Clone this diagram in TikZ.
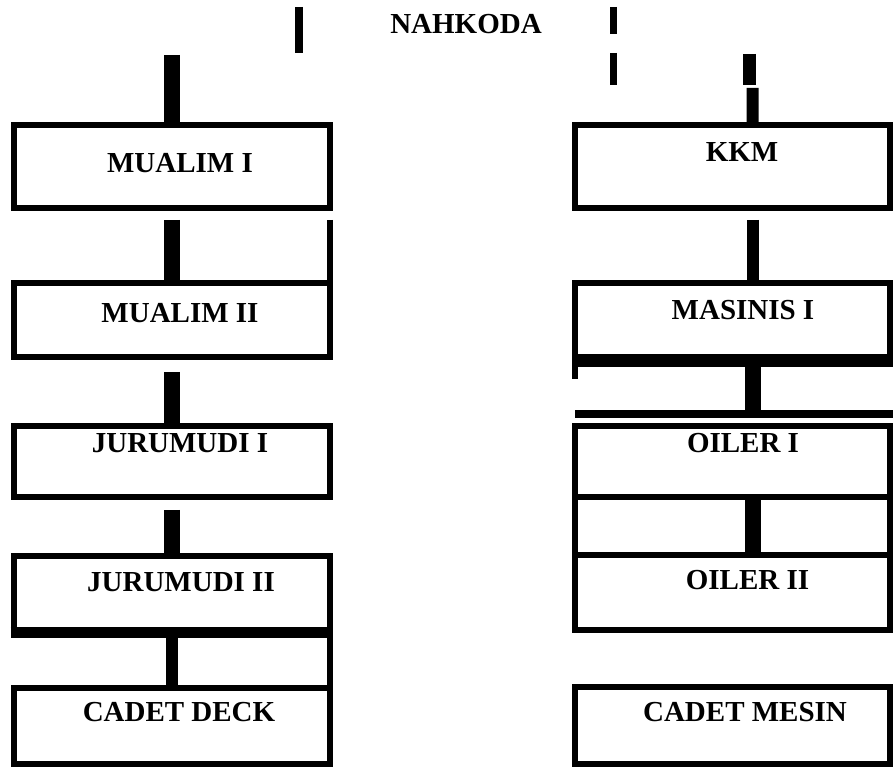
\documentclass[tikz,border=0pt]{standalone}
\usepackage{fontspec}
\setmainfont{Liberation Serif}

\begin{document}
\begin{tikzpicture}[x=0.02cm, y=-0.02cm,
  box/.style={draw, line width=0.12cm, inner sep=0pt, outer sep=0pt},
  lbl/.style={font=\fontsize{16.5}{20}\selectfont\bfseries, inner sep=0pt, text height=11pt, text depth=0pt},
  conn/.style={line width=0.32cm},
  narrowconn/.style={line width=0.24cm},
  edge/.style={line width=0.12cm}]
  \useasboundingbox (0,0) rectangle (893,767);
  % top
  \node[lbl] (nahkoda) at (466,23.5) {NAHKODA};
  \coordinate (ltop) at (172,55);
  \coordinate (stubA1) at (299,7);    \coordinate (stubA2) at (299,53);
  \coordinate (stubB1) at (613.5,7);  \coordinate (stubB2) at (613.5,34);
  \coordinate (stubC1) at (613.5,53); \coordinate (stubC2) at (613.5,85);
  \coordinate (stubD1) at (749.5,54); \coordinate (stubD2) at (749.5,85);
  \coordinate (rtop) at (752.5,88);
  % deck side
  \foreach \n/\y/\h/\dx/\dy/\t in {m1/166.5/1.66cm/8/-4/MUALIM I, m2/320/1.5cm/8/-7.5/MUALIM II,
      j1/461.5/1.42cm/8/-18.5/JURUMUDI I, j2/593/1.5cm/9/-11/JURUMUDI II, cd/726/1.54cm/7/-14/CADET DECK}
    \node[box, minimum width=6.34cm, minimum height=\h,
      label={[lbl, shift={(\dx,\dy)}]center:\t}] (\n) at (172,\y) {};
  % engine side
  \foreach \n/\y/\h/\dx/\dy/\t in {kkm/166.5/1.66cm/9.5/-15/KKM, mas/320/1.5cm/10.5/-10/MASINIS I,
      o1/461.5/1.42cm/10.5/-19/OILER I, o2/592.5/1.5cm/15/-12.5/OILER II, cm/725.5/1.56cm/12.5/-14/CADET MESIN}
    \node[box, minimum width=6.3cm, minimum height=\h,
      label={[lbl, shift={(\dx,\dy)}]center:\t}] (\n) at (732.5,\y) {};
  % stubs round the title
  \draw[line width=0.16cm] (stubA1) -- (stubA2);
  \draw[line width=0.14cm] (stubB1) -- (stubB2);
  \draw[line width=0.14cm] (stubC1) -- (stubC2);
  \draw[line width=0.26cm] (stubD1) -- (stubD2);
  % deck lines
  \draw[conn] (ltop) -- (m1.north);
  \draw[conn, shorten <=0.24cm] (m1.south) -- (m2.north);
  \draw[edge, shorten <=0.24cm] (m1.south east) -- (m2.north east);
  \draw[conn, shorten <=0.29cm] (m2.south) -- (j1.north);
  \draw[conn, shorten <=0.26cm] (j1.south) -- (j2.north);
  \draw[line width=0.22cm, shorten <=-0.06cm, shorten >=-0.06cm]
    ([yshift=-0.04cm]j2.south west) -- ([yshift=-0.04cm]j2.south east);
  \draw[narrowconn] (j2.south) -- (cd.north);
  \draw[edge] (j2.south east) -- (cd.north east);
  % engine lines
  \draw[narrowconn] (rtop) -- ([xshift=0.4cm]kkm.north);
  \draw[narrowconn, shorten <=0.24cm] ([xshift=0.41cm]kkm.south) -- ([xshift=0.41cm]mas.north);
  \draw[line width=0.26cm, shorten <=-0.06cm, shorten >=-0.06cm]
    ([yshift=-0.06cm]mas.south west) -- ([yshift=-0.06cm]mas.south east);
  \draw[edge] (mas.south west) -- ++(0,21.5);
  \draw[conn, shorten >=0.24cm] ([xshift=0.41cm]mas.south) -- ([xshift=0.41cm]o1.north);
  \draw[line width=0.16cm, shorten >=-0.06cm]
    ([yshift=0.24cm]o1.north west) -- ([yshift=0.24cm]o1.north east);
  \draw[conn] ([xshift=0.41cm]o1.south) -- ([xshift=0.41cm]o2.north);
  \draw[edge] (o1.south west) -- (o2.north west);
  \draw[edge] (o1.south east) -- (o2.north east);

\end{tikzpicture}
\end{document}
